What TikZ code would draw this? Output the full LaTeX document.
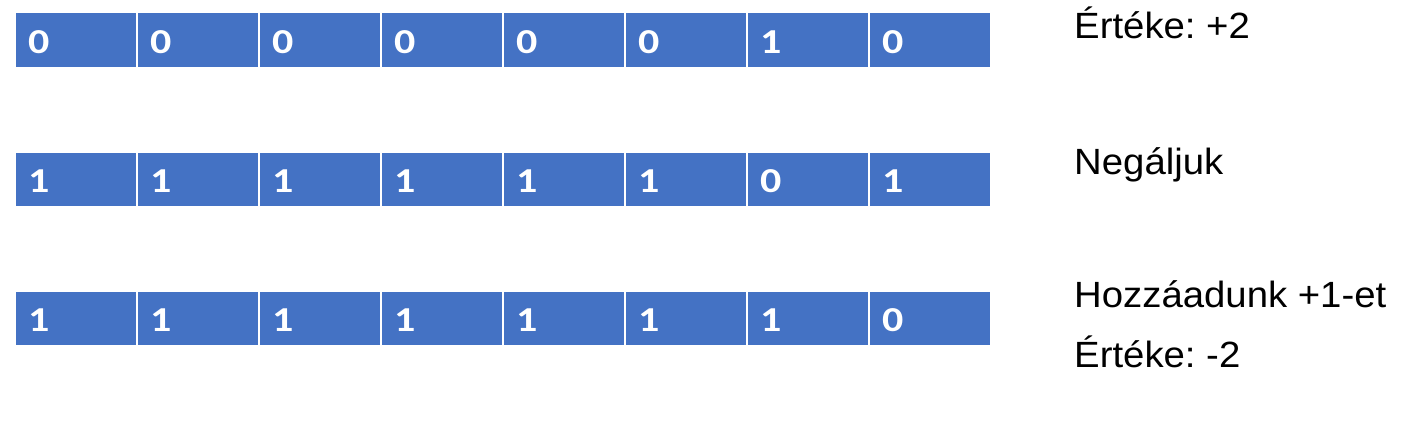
\documentclass[tikz,border=0pt]{standalone}
\usepackage{fontspec}
\setmainfont{Liberation Sans}
\newfontfamily\notefont[FakeStretch=1.05]{Liberation Sans}
\newfontfamily\digitfont[FakeStretch=1.2]{Carlito}
\definecolor{cellblue}{HTML}{4472C4}
\frenchspacing
\begin{document}
\begin{tikzpicture}[x=1pt,y=-1pt,
  cell/.style={draw=white,line width=1.5pt,fill=cellblue,minimum width=122pt,minimum height=55pt,inner sep=0pt,anchor=north west},
  digit/.style={anchor=base west,inner sep=0pt,text=white,font=\digitfont\bfseries\fontsize{35}{40}\selectfont},
  note/.style={anchor=base west,inner sep=0pt,font=\notefont\fontsize{36.5}{44}\selectfont}]
\fill[white] (0,0) rectangle (1410,428);
\foreach \r/\y/\bits in {a/12/{0,0,0,0,0,0,1,0}, b/151/{1,1,1,1,1,1,0,1}, c/290/{1,1,1,1,1,1,1,0}}{
  \foreach \b [count=\i from 0] in \bits {
    \node[cell] (\r\i) at ({14+122*\i},\y) {};
    \node[digit] (\r d\i) at ([xshift=14pt,yshift=-41.5pt]\r\i.north west) {\b};
  }
}
\node[note] (t1) at (1074,39) {Értéke: +2};
\node[note] (t2) at (1074,174.5) {Negáljuk};
\node[note] (t3) at (1074,307) {Hozzáadunk +1-et};
\node[note] (t4) at (1074,367) {Értéke: -2};
\end{tikzpicture}
\end{document}
